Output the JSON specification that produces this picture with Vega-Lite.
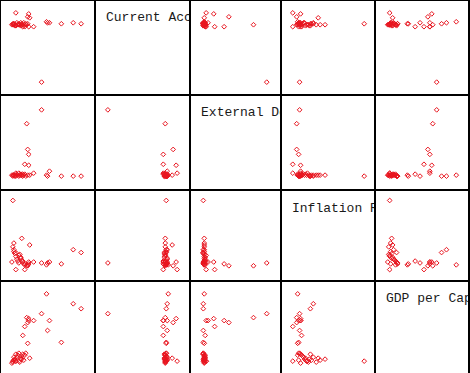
{
  "$schema": "https://vega.github.io/schema/vega-lite/v6.json",
  "padding": {"left": 1, "top": 1, "right": 2, "bottom": 0},
  "background": "#000000",
  "config": {"view": {"stroke": null, "fill": "#ffffff"}, "concat": {"spacing": 2}},
  "data": {"values": [
    {"gdp": 41, "ca": 12, "ed": 80, "inf": 18, "gdppc": 62},
    {"gdp": 12, "ca": 71, "ed": 13, "inf": 84, "gdppc": 14},
    {"gdp": 26, "ca": 70, "ed": 66, "inf": 15, "gdppc": 58},
    {"gdp": 27, "ca": 78, "ed": 40, "inf": 15, "gdppc": 53},
    {"gdp": 28, "ca": 68, "ed": 35, "inf": 17, "gdppc": 55},
    {"gdp": 28, "ca": 81, "ed": 24, "inf": 19, "gdppc": 57},
    {"gdp": 24, "ca": 68, "ed": 25, "inf": 11, "gdppc": 49},
    {"gdp": 46, "ca": 73, "ed": 14, "inf": 16, "gdppc": 82},
    {"gdp": 73, "ca": 72, "ed": 13, "inf": 32, "gdppc": 72},
    {"gdp": 81, "ca": 71, "ed": 13, "inf": 29, "gdppc": 67},
    {"gdp": 47, "ca": 72, "ed": 13, "inf": 18, "gdppc": 45},
    {"gdp": 61, "ca": 71, "ed": 13, "inf": 17, "gdppc": 33},
    {"gdp": 33, "ca": 68, "ed": 16, "inf": 19, "gdppc": 55},
    {"gdp": 21, "ca": 70, "ed": 14, "inf": 44, "gdppc": 16},
    {"gdp": 15, "ca": 82, "ed": 16, "inf": 11, "gdppc": 14},
    {"gdp": 22, "ca": 68, "ed": 15, "inf": 20, "gdppc": 40},
    {"gdp": 27, "ca": 71, "ed": 14, "inf": 16, "gdppc": 32},
    {"gdp": 49, "ca": 72, "ed": 18, "inf": 19, "gdppc": 55},
    {"gdp": 13, "ca": 70, "ed": 14, "inf": 39, "gdppc": 15},
    {"gdp": 29, "ca": 77, "ed": 14, "inf": 37, "gdppc": 17},
    {"gdp": 12, "ca": 70, "ed": 14, "inf": 35, "gdppc": 13},
    {"gdp": 13, "ca": 71, "ed": 14, "inf": 30, "gdppc": 15},
    {"gdp": 14, "ca": 69, "ed": 13, "inf": 28, "gdppc": 16},
    {"gdp": 15, "ca": 70, "ed": 14, "inf": 25, "gdppc": 14},
    {"gdp": 16, "ca": 72, "ed": 15, "inf": 22, "gdppc": 18},
    {"gdp": 17, "ca": 70, "ed": 14, "inf": 20, "gdppc": 20},
    {"gdp": 18, "ca": 71, "ed": 13, "inf": 18, "gdppc": 22},
    {"gdp": 19, "ca": 70, "ed": 14, "inf": 27, "gdppc": 13},
    {"gdp": 20, "ca": 69, "ed": 15, "inf": 24, "gdppc": 17},
    {"gdp": 21, "ca": 71, "ed": 14, "inf": 21, "gdppc": 19},
    {"gdp": 22, "ca": 70, "ed": 13, "inf": 19, "gdppc": 21},
    {"gdp": 23, "ca": 72, "ed": 14, "inf": 17, "gdppc": 15},
    {"gdp": 24, "ca": 70, "ed": 15, "inf": 16, "gdppc": 20},
    {"gdp": 13, "ca": 71, "ed": 14, "inf": 32, "gdppc": 18},
    {"gdp": 15, "ca": 69, "ed": 13, "inf": 29, "gdppc": 21},
    {"gdp": 18, "ca": 70, "ed": 16, "inf": 26, "gdppc": 14},
    {"gdp": 20, "ca": 72, "ed": 14, "inf": 23, "gdppc": 16},
    {"gdp": 11, "ca": 70, "ed": 14, "inf": 19, "gdppc": 12},
    {"gdp": 25, "ca": 71, "ed": 13, "inf": 17, "gdppc": 22}
  ]},
  "vconcat": [
    {"hconcat": [
      {"width": 93, "height": 93, "mark": {"type": "point", "shape": "diamond", "filled": false, "color": "#e8141e", "size": 22, "strokeWidth": 1, "opacity": 1}, "encoding": {"x": {"field": "gdp", "type": "quantitative", "scale": {"domain": [0, 94], "nice": false, "zero": false}, "axis": null}, "y": {"field": "ca", "type": "quantitative", "scale": {"domain": [0, 94], "nice": false, "zero": false}, "axis": null}}},
      {"width": 93, "height": 93, "data": {"values": [{"label": "Current Account Balance"}]}, "mark": {"type": "text", "align": "left", "baseline": "alphabetic", "font": "Liberation Mono", "fontSize": 13, "color": "#1a1a1a", "clip": true}, "encoding": {"text": {"field": "label"}, "x": {"datum": 10.1, "type": "quantitative", "scale": {"domain": [0, 94], "nice": false, "zero": false}, "axis": null}, "y": {"datum": 73.3, "type": "quantitative", "scale": {"domain": [0, 94], "nice": false, "zero": false}, "axis": null}}},
      {"width": 89, "height": 93, "mark": {"type": "point", "shape": "diamond", "filled": false, "color": "#e8141e", "size": 22, "strokeWidth": 1, "opacity": 1}, "encoding": {"x": {"field": "ed", "type": "quantitative", "scale": {"domain": [0, 94], "nice": false, "zero": false}, "axis": null}, "y": {"field": "ca", "type": "quantitative", "scale": {"domain": [0, 94], "nice": false, "zero": false}, "axis": null}}},
      {"width": 92, "height": 93, "mark": {"type": "point", "shape": "diamond", "filled": false, "color": "#e8141e", "size": 22, "strokeWidth": 1, "opacity": 1}, "encoding": {"x": {"field": "inf", "type": "quantitative", "scale": {"domain": [0, 94], "nice": false, "zero": false}, "axis": null}, "y": {"field": "ca", "type": "quantitative", "scale": {"domain": [0, 94], "nice": false, "zero": false}, "axis": null}}},
      {"width": 92, "height": 93, "mark": {"type": "point", "shape": "diamond", "filled": false, "color": "#e8141e", "size": 22, "strokeWidth": 1, "opacity": 1}, "encoding": {"x": {"field": "gdppc", "type": "quantitative", "scale": {"domain": [0, 94], "nice": false, "zero": false}, "axis": null}, "y": {"field": "ca", "type": "quantitative", "scale": {"domain": [0, 94], "nice": false, "zero": false}, "axis": null}}}
    ]},
    {"hconcat": [
      {"width": 93, "height": 93, "mark": {"type": "point", "shape": "diamond", "filled": false, "color": "#e8141e", "size": 22, "strokeWidth": 1, "opacity": 1}, "encoding": {"x": {"field": "gdp", "type": "quantitative", "scale": {"domain": [0, 94], "nice": false, "zero": false}, "axis": null}, "y": {"field": "ed", "type": "quantitative", "scale": {"domain": [0, 94], "nice": false, "zero": false}, "axis": null}}},
      {"width": 93, "height": 93, "mark": {"type": "point", "shape": "diamond", "filled": false, "color": "#e8141e", "size": 22, "strokeWidth": 1, "opacity": 1}, "encoding": {"x": {"field": "ca", "type": "quantitative", "scale": {"domain": [0, 94], "nice": false, "zero": false}, "axis": null}, "y": {"field": "ed", "type": "quantitative", "scale": {"domain": [0, 94], "nice": false, "zero": false}, "axis": null}}},
      {"width": 89, "height": 93, "data": {"values": [{"label": "External Debt"}]}, "mark": {"type": "text", "align": "left", "baseline": "alphabetic", "font": "Liberation Mono", "fontSize": 13, "color": "#1a1a1a", "clip": true}, "encoding": {"text": {"field": "label"}, "x": {"datum": 10.6, "type": "quantitative", "scale": {"domain": [0, 94], "nice": false, "zero": false}, "axis": null}, "y": {"datum": 73.3, "type": "quantitative", "scale": {"domain": [0, 94], "nice": false, "zero": false}, "axis": null}}},
      {"width": 92, "height": 93, "mark": {"type": "point", "shape": "diamond", "filled": false, "color": "#e8141e", "size": 22, "strokeWidth": 1, "opacity": 1}, "encoding": {"x": {"field": "inf", "type": "quantitative", "scale": {"domain": [0, 94], "nice": false, "zero": false}, "axis": null}, "y": {"field": "ed", "type": "quantitative", "scale": {"domain": [0, 94], "nice": false, "zero": false}, "axis": null}}},
      {"width": 92, "height": 93, "mark": {"type": "point", "shape": "diamond", "filled": false, "color": "#e8141e", "size": 22, "strokeWidth": 1, "opacity": 1}, "encoding": {"x": {"field": "gdppc", "type": "quantitative", "scale": {"domain": [0, 94], "nice": false, "zero": false}, "axis": null}, "y": {"field": "ed", "type": "quantitative", "scale": {"domain": [0, 94], "nice": false, "zero": false}, "axis": null}}}
    ]},
    {"hconcat": [
      {"width": 93, "height": 89, "mark": {"type": "point", "shape": "diamond", "filled": false, "color": "#e8141e", "size": 22, "strokeWidth": 1, "opacity": 1}, "encoding": {"x": {"field": "gdp", "type": "quantitative", "scale": {"domain": [0, 94], "nice": false, "zero": false}, "axis": null}, "y": {"field": "inf", "type": "quantitative", "scale": {"domain": [0, 94], "nice": false, "zero": false}, "axis": null}}},
      {"width": 93, "height": 89, "mark": {"type": "point", "shape": "diamond", "filled": false, "color": "#e8141e", "size": 22, "strokeWidth": 1, "opacity": 1}, "encoding": {"x": {"field": "ca", "type": "quantitative", "scale": {"domain": [0, 94], "nice": false, "zero": false}, "axis": null}, "y": {"field": "inf", "type": "quantitative", "scale": {"domain": [0, 94], "nice": false, "zero": false}, "axis": null}}},
      {"width": 89, "height": 89, "mark": {"type": "point", "shape": "diamond", "filled": false, "color": "#e8141e", "size": 22, "strokeWidth": 1, "opacity": 1}, "encoding": {"x": {"field": "ed", "type": "quantitative", "scale": {"domain": [0, 94], "nice": false, "zero": false}, "axis": null}, "y": {"field": "inf", "type": "quantitative", "scale": {"domain": [0, 94], "nice": false, "zero": false}, "axis": null}}},
      {"width": 92, "height": 89, "data": {"values": [{"label": "Inflation Rate"}]}, "mark": {"type": "text", "align": "left", "baseline": "alphabetic", "font": "Liberation Mono", "fontSize": 13, "color": "#1a1a1a", "clip": true}, "encoding": {"text": {"field": "label"}, "x": {"datum": 10.2, "type": "quantitative", "scale": {"domain": [0, 94], "nice": false, "zero": false}, "axis": null}, "y": {"datum": 72.3, "type": "quantitative", "scale": {"domain": [0, 94], "nice": false, "zero": false}, "axis": null}}},
      {"width": 92, "height": 89, "mark": {"type": "point", "shape": "diamond", "filled": false, "color": "#e8141e", "size": 22, "strokeWidth": 1, "opacity": 1}, "encoding": {"x": {"field": "gdppc", "type": "quantitative", "scale": {"domain": [0, 94], "nice": false, "zero": false}, "axis": null}, "y": {"field": "inf", "type": "quantitative", "scale": {"domain": [0, 94], "nice": false, "zero": false}, "axis": null}}}
    ]},
    {"hconcat": [
      {"width": 93, "height": 93, "mark": {"type": "point", "shape": "diamond", "filled": false, "color": "#e8141e", "size": 22, "strokeWidth": 1, "opacity": 1}, "encoding": {"x": {"field": "gdp", "type": "quantitative", "scale": {"domain": [0, 94], "nice": false, "zero": false}, "axis": null}, "y": {"field": "gdppc", "type": "quantitative", "scale": {"domain": [0, 94], "nice": false, "zero": false}, "axis": null}}},
      {"width": 93, "height": 93, "mark": {"type": "point", "shape": "diamond", "filled": false, "color": "#e8141e", "size": 22, "strokeWidth": 1, "opacity": 1}, "encoding": {"x": {"field": "ca", "type": "quantitative", "scale": {"domain": [0, 94], "nice": false, "zero": false}, "axis": null}, "y": {"field": "gdppc", "type": "quantitative", "scale": {"domain": [0, 94], "nice": false, "zero": false}, "axis": null}}},
      {"width": 89, "height": 93, "mark": {"type": "point", "shape": "diamond", "filled": false, "color": "#e8141e", "size": 22, "strokeWidth": 1, "opacity": 1}, "encoding": {"x": {"field": "ed", "type": "quantitative", "scale": {"domain": [0, 94], "nice": false, "zero": false}, "axis": null}, "y": {"field": "gdppc", "type": "quantitative", "scale": {"domain": [0, 94], "nice": false, "zero": false}, "axis": null}}},
      {"width": 92, "height": 93, "mark": {"type": "point", "shape": "diamond", "filled": false, "color": "#e8141e", "size": 22, "strokeWidth": 1, "opacity": 1}, "encoding": {"x": {"field": "inf", "type": "quantitative", "scale": {"domain": [0, 94], "nice": false, "zero": false}, "axis": null}, "y": {"field": "gdppc", "type": "quantitative", "scale": {"domain": [0, 94], "nice": false, "zero": false}, "axis": null}}},
      {"width": 92, "height": 93, "data": {"values": [{"label": "GDP per Capita"}]}, "mark": {"type": "text", "align": "left", "baseline": "alphabetic", "font": "Liberation Mono", "fontSize": 13, "color": "#1a1a1a", "clip": true}, "encoding": {"text": {"field": "label"}, "x": {"datum": 10.2, "type": "quantitative", "scale": {"domain": [0, 94], "nice": false, "zero": false}, "axis": null}, "y": {"datum": 74, "type": "quantitative", "scale": {"domain": [0, 94], "nice": false, "zero": false}, "axis": null}}}
    ]}
  ]
}
